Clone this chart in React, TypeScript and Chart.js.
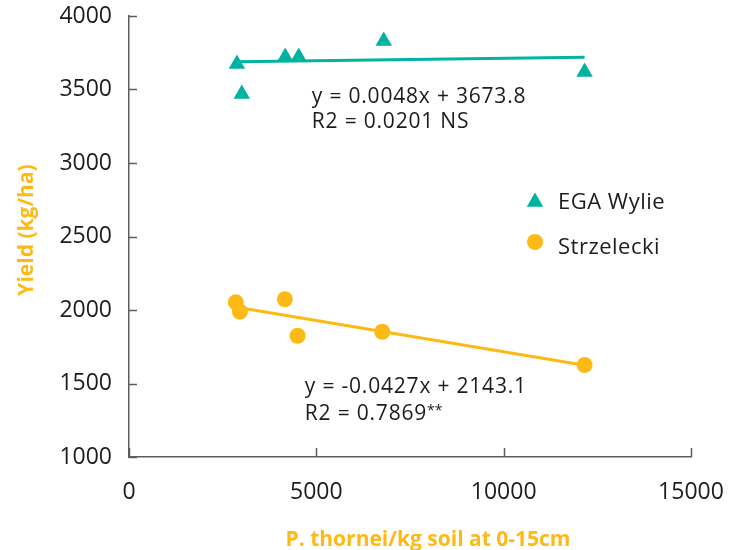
import React, { useEffect, useRef } from 'react';
import { Chart, registerables } from 'chart.js';

Chart.register(...registerables);

// ---- data ----
const seriesNames = ['EGA Wylie', 'Strzelecki'];
const wylieX = [2880, 3010, 4170, 4530, 6800, 12160];
const wylieY = [3673, 3469, 3721, 3721, 3830, 3619];
const strzX = [2850, 2960, 4160, 4500, 6760, 12160];
const strzY = [2052, 1989, 2073, 1825, 1852, 1626];
const wylieTrendX = [2880, 12160];
const wylieTrendY = [3689, 3720];
const strzTrendX = [2960, 12160];
const strzTrendY = [2016, 1624];
const xTickValues = [0, 5000, 10000, 15000];
const yTickValues = [1000, 1500, 2000, 2500, 3000, 3500, 4000];
const wylieEquation = ['y = 0.0048x + 3673.8', 'R2 = 0.0201 NS'];
const strzEquation = ['y = -0.0427x + 2143.1', 'R2 = 0.7869**'];
const xTitle = 'P. thornei/kg soil at 0-15cm';
const yTitle = 'Yield (kg/ha)';

// ---- styles ----
const TEAL = '#00B2A0';
const GOLD = '#FDBA17';
const TEXT = '#1c1c1c';
const AXIS = '#5c5c5c';
const FONT = '"Open Sans", Lato, sans-serif';

const toPts = (xs: number[], ys: number[]) => xs.map((x, i) => ({ x, y: ys[i] }));

const decorPlugin = {
  id: 'decor',
  afterDraw(chart: any) {
    const { ctx, chartArea, scales } = chart;
    const xs = scales.x;
    const ys = scales.y;
    ctx.save();
    // inward tick marks
    ctx.strokeStyle = AXIS;
    ctx.lineWidth = 1.5;
    ys.ticks.forEach((t: any) => {
      const py = Math.round(ys.getPixelForValue(t.value)) + 0.5;
      ctx.beginPath();
      ctx.moveTo(chartArea.left, py);
      ctx.lineTo(chartArea.left + 8, py);
      ctx.stroke();
    });
    xs.ticks.forEach((t: any) => {
      const px = Math.round(xs.getPixelForValue(t.value)) + 0.5;
      ctx.beginPath();
      ctx.moveTo(px, chartArea.bottom);
      ctx.lineTo(px, chartArea.bottom - 9);
      ctx.stroke();
    });

    // equations
    ctx.fillStyle = TEXT;
    ctx.textAlign = 'left';
    ctx.textBaseline = 'alphabetic';
    const mainFont = `21px ${FONT}`;
    const supFont = `14px ${FONT}`;
    const eqs = [
      { lines: wylieEquation, ax: 4880, ay: 3408, gap: 25 },
      { lines: strzEquation, ax: 4693, ay: 1435, gap: 27 },
    ];
    eqs.forEach((e) => {
      const px = xs.getPixelForValue(e.ax);
      const py = ys.getPixelForValue(e.ay);
      e.lines.forEach((l, i) => {
        const m = l.match(/^(.*?)(\*+)$/);
        const main = m ? m[1] : l;
        ctx.font = mainFont;
        (ctx as any).letterSpacing = '0.8px';
        ctx.fillText(main, px, py + i * e.gap);
        if (m) {
          const w = ctx.measureText(main).width;
          ctx.font = supFont;
          (ctx as any).letterSpacing = '0px';
          ctx.fillText(m[2], px + w, py + i * e.gap - 5);
        }
      });
    });

    // legend
    const lx = 535;
    ctx.fillStyle = TEAL;
    const r = 9.5;
    const cy1 = 202;
    ctx.beginPath();
    ctx.moveTo(lx, cy1 - r);
    ctx.lineTo(lx + r * Math.sin((2 * Math.PI) / 3), cy1 - r * Math.cos((2 * Math.PI) / 3));
    ctx.lineTo(lx + r * Math.sin((4 * Math.PI) / 3), cy1 - r * Math.cos((4 * Math.PI) / 3));
    ctx.closePath();
    ctx.fill();
    ctx.fillStyle = GOLD;
    ctx.beginPath();
    ctx.arc(lx, 242, 8, 0, Math.PI * 2);
    ctx.fill();
    ctx.fillStyle = TEXT;
    ctx.font = `22px ${FONT}`;
    (ctx as any).letterSpacing = '0.5px';
    ctx.textBaseline = 'alphabetic';
    ctx.fillText(seriesNames[0], 558, 209);
    ctx.fillText(seriesNames[1], 558, 254);

    // axis titles
    ctx.fillStyle = GOLD;
    ctx.font = `bold 21px ${FONT}`;
    (ctx as any).letterSpacing = '0px';
    ctx.textAlign = 'center';
    ctx.textBaseline = 'alphabetic';
    ctx.fillText(xTitle, 428, 546);
    ctx.save();
    ctx.translate(33, 230);
    ctx.rotate(-Math.PI / 2);
    ctx.fillText(yTitle, 0, 0);
    ctx.restore();

    ctx.restore();
  },
};

export default function App() {
  const ref = useRef<HTMLCanvasElement | null>(null);
  useEffect(() => {
    if (!ref.current) return;
    const chart = new Chart(ref.current, {
      type: 'scatter',
      data: {
        datasets: [
          {
            label: seriesNames[0],
            data: toPts(wylieX, wylieY),
            pointStyle: 'triangle',
            pointRadius: 9.5,
            pointHoverRadius: 9.5,
            pointBackgroundColor: TEAL,
            pointBorderWidth: 0,
            borderColor: TEAL,
            backgroundColor: TEAL,
          },
          {
            label: seriesNames[1],
            data: toPts(strzX, strzY),
            pointStyle: 'circle',
            pointRadius: 8,
            pointHoverRadius: 8,
            pointBackgroundColor: GOLD,
            pointBorderWidth: 0,
            borderColor: GOLD,
            backgroundColor: GOLD,
          },
          {
            type: 'line',
            label: 'wylie trend',
            data: toPts(wylieTrendX, wylieTrendY),
            showLine: true,
            borderColor: TEAL,
            borderWidth: 3,
            pointRadius: 0,
            fill: false,
          } as any,
          {
            type: 'line',
            label: 'strz trend',
            data: toPts(strzTrendX, strzTrendY),
            showLine: true,
            borderColor: GOLD,
            borderWidth: 3,
            pointRadius: 0,
            fill: false,
          } as any,
        ],
      },
      options: {
        responsive: false,
        animation: false,
        devicePixelRatio: 1,
        layout: { padding: { left: 0, top: 16, right: 44, bottom: 0 } },
        plugins: {
          legend: { display: false },
          tooltip: { enabled: false },
        },
        scales: {
          x: {
            type: 'linear',
            min: 0,
            max: 15000,
            afterBuildTicks: (s: any) => {
              s.ticks = xTickValues.map((v) => ({ value: v }));
            },
            afterFit: (s: any) => {
              s.height = 93;
              s.paddingLeft = 0;
              s.paddingRight = 0;
            },
            grid: { display: false, drawTicks: false },
            border: { display: true, color: AXIS, width: 1.5 },
            ticks: {
              padding: 22,
              color: TEXT,
              font: { family: FONT, size: 23 },
              maxRotation: 0,
              callback: (v: any) => String(v),
            },
            title: { display: false },
          },
          y: {
            type: 'linear',
            min: 1000,
            max: 4000,
            afterBuildTicks: (s: any) => {
              s.ticks = yTickValues.map((v) => ({ value: v }));
            },
            afterFit: (s: any) => {
              s.width = 129;
              s.paddingTop = 0;
              s.paddingBottom = 0;
            },
            grid: { display: false, drawTicks: false },
            border: { display: true, color: AXIS, width: 1.5 },
            ticks: {
              padding: 17,
              color: TEXT,
              font: { family: FONT, size: 23 },
              callback: (v: any) => String(v),
            },
            title: { display: false },
          },
        },
      },
      plugins: [decorPlugin],
    });
    return () => chart.destroy();
  }, []);

  return (
    <div style={{ position: 'fixed', left: 0, top: 0, width: 735, height: 550, background: '#fff' }}>
      <canvas ref={ref} width={735} height={550} style={{ width: 735, height: 550, display: 'block' }} />
    </div>
  );
}
